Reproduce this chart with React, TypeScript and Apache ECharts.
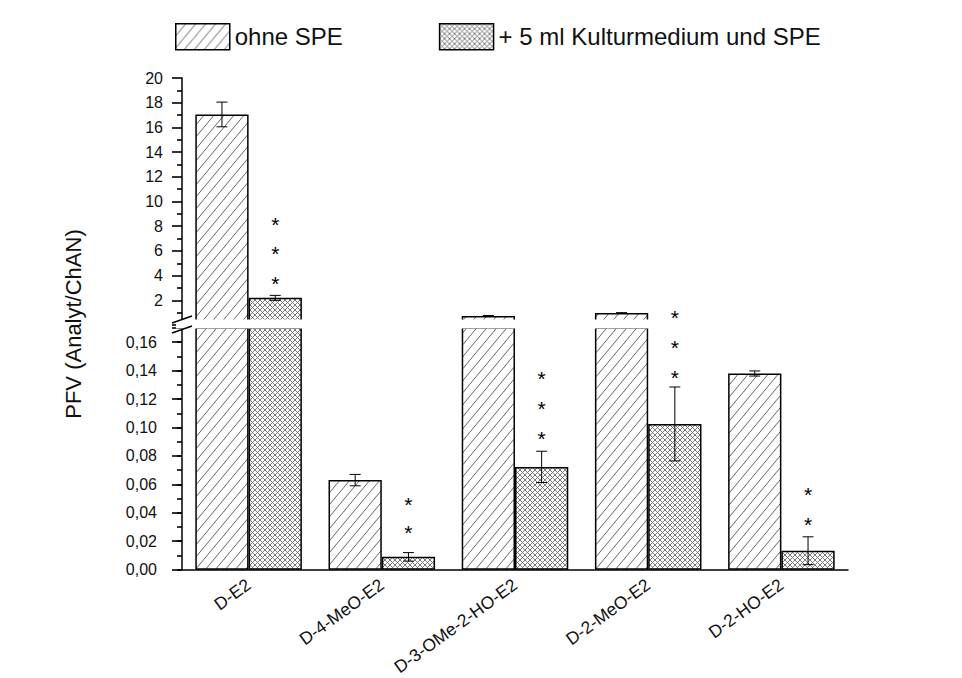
import React, { useEffect, useRef } from "react";
import * as echarts from "echarts";

// Substances on the x axis
const categories = ["D-E2", "D-4-MeO-E2", "D-3-OMe-2-HO-E2", "D-2-MeO-E2", "D-2-HO-E2"];
const seriesNames = ["ohne SPE", "+ 5 ml Kulturmedium und SPE"];

// PFV means and standard deviations
const ohneSPE = [17.05, 0.063, 0.73, 0.97, 0.138];
const ohneSPEErr = [1.0, 0.004, 0.04, 0.03, 0.0018];
const mitSPE = [2.2, 0.009, 0.0723, 0.1025, 0.0133];
const mitSPEErr = [0.2, 0.003, 0.011, 0.026, 0.0098];

// Significance asterisks: [category, y value] (all above the SPE bars)
const starsUpper = [[0, 8.5], [0, 6.1], [0, 3.7], [3, 0.9]];
const starsLower = [
  [1, 0.049], [1, 0.0288],
  [2, 0.137], [2, 0.1165], [2, 0.0954],
  [3, 0.159], [3, 0.138],
  [4, 0.0554], [4, 0.0344],
];

// Broken y axis: lower segment and upper segment ranges
const lowerMax = 0.17;
const upperMax = 20;
const breakValue = 0.17; // values above this are drawn in the upper segment

const FONT = "'Liberation Sans', Arial, sans-serif";

function hatchTile(): HTMLCanvasElement {
  const c = document.createElement("canvas");
  c.width = 10;
  c.height = 12;
  const ctx = c.getContext("2d")!;
  ctx.fillStyle = "#ffffff";
  ctx.fillRect(0, 0, 10, 12);
  ctx.strokeStyle = "#666666";
  ctx.lineWidth = 1;
  ctx.beginPath();
  for (let k = -1; k <= 2; k++) {
    // y = 12k - 1.2x
    ctx.moveTo(-5, 12 * k + 6);
    ctx.lineTo(15, 12 * k - 18);
  }
  ctx.stroke();
  return c;
}

function crossTile(): HTMLCanvasElement {
  const c = document.createElement("canvas");
  c.width = 5;
  c.height = 5;
  const ctx = c.getContext("2d")!;
  ctx.fillStyle = "#ffffff";
  ctx.fillRect(0, 0, 5, 5);
  ctx.strokeStyle = "#6c6c6c";
  ctx.lineWidth = 0.9;
  ctx.beginPath();
  ctx.moveTo(-1, -1);
  ctx.lineTo(6, 6);
  ctx.moveTo(-1, 6);
  ctx.lineTo(6, -1);
  ctx.stroke();
  return c;
}

function errorData(vals: number[], errs: number[], side: number, upper: boolean) {
  const out: number[][] = [];
  vals.forEach((v, i) => {
    const hi = v + errs[i];
    const isUpper = hi > breakValue;
    if (isUpper === upper) out.push([i, v - errs[i], hi, side]);
  });
  return out;
}

const renderError = (_params: any, api: any) => {
  const cat = api.value(0);
  const lo = api.value(1);
  const hi = api.value(2);
  const side = api.value(3);
  const bw = api.size([1, 0])[0];
  const xc = api.coord([cat, 0])[0] + side * bw * 0.2;
  const yLo = api.coord([cat, lo])[1];
  const yHi = api.coord([cat, hi])[1];
  const cap = 5.5;
  const st = { stroke: "#000", lineWidth: 1 };
  return {
    type: "group",
    children: [
      { type: "line", shape: { x1: xc, y1: yLo, x2: xc, y2: yHi }, style: st },
      { type: "line", shape: { x1: xc - cap, y1: yLo, x2: xc + cap, y2: yLo }, style: st },
      { type: "line", shape: { x1: xc - cap, y1: yHi, x2: xc + cap, y2: yHi }, style: st },
    ],
  };
};

const renderStar = (_params: any, api: any) => {
  const cat = api.value(0);
  const v = api.value(1);
  const bw = api.size([1, 0])[0];
  const p = api.coord([cat, v]);
  return {
    type: "text",
    x: p[0] + bw * 0.2,
    y: p[1] + 4,
    style: {
      text: "*",
      fontSize: 21,
      fontFamily: FONT,
      fill: "#000",
      align: "center",
      verticalAlign: "middle",
    },
  };
};

export default function App() {
  const ref = useRef<HTMLDivElement>(null);

  useEffect(() => {
    if (!ref.current) return;
    const chart = echarts.init(ref.current, null, { renderer: "svg" });
    const hatch = { image: hatchTile(), repeat: "repeat" };
    const cross = { image: crossTile(), repeat: "repeat" };

    const gridLeft = 182;
    const gridWidth = 666;

    const axisLineStyle = { color: "#000", width: 1.5 };
    const commaFmt = (v: number) => (v > lowerMax - 0.005 ? "" : v.toFixed(2).replace(".", ","));

    const barBase = {
      type: "bar",
      barGap: "0%",
      barCategoryGap: "20%",
      clip: true,
    };

    const option: any = {
      animation: false,
      backgroundColor: "#ffffff",
      textStyle: { fontFamily: FONT },
      legend: {
        left: 175,
        top: 23,
        padding: 0,
        itemWidth: 54,
        itemHeight: 26,
        itemGap: 96,
        icon: "rect",
        data: seriesNames,
        selectedMode: false,
        textStyle: { fontSize: 24, color: "#111", fontFamily: FONT },
        itemStyle: { borderColor: "#000", borderWidth: 1.5 },
      },
      grid: [
        { left: gridLeft, width: gridWidth, top: 78, height: 247 },
        { left: gridLeft, width: gridWidth, top: 328, height: 242 },
      ],
      xAxis: [
        { type: "category", gridIndex: 0, data: categories, show: false },
        {
          type: "category",
          gridIndex: 1,
          data: categories,
          axisLine: { lineStyle: axisLineStyle },
          axisTick: { alignWithLabel: true, length: 10, lineStyle: { color: "#000", width: 1.5 } },
          axisLabel: { rotate: 36, fontSize: 17.5, color: "#111", margin: 13, fontFamily: FONT },
        },
      ],
      yAxis: [
        {
          type: "value",
          gridIndex: 0,
          position: "left",
          min: 0,
          max: upperMax,
          interval: 2,
          axisLine: { show: true, lineStyle: axisLineStyle },
          axisTick: { show: true, length: 10, lineStyle: { color: "#000", width: 1.6 } },
          minorTick: { show: true, splitNumber: 2, length: 5, lineStyle: { color: "#000", width: 1.6 } },
          splitLine: { show: false },
          axisLabel: {
            fontSize: 16,
            color: "#111",
            margin: 19,
            fontFamily: FONT,
            formatter: (v: number) => (v === 0 ? "" : String(v)),
          },
        },
        {
          type: "value",
          gridIndex: 1,
          position: "left",
          min: 0,
          max: lowerMax,
          interval: 0.02,
          axisLine: { show: true, lineStyle: axisLineStyle },
          axisTick: { show: true, length: 10, lineStyle: { color: "#000", width: 1.6 } },
          splitLine: { show: false },
          axisLabel: { fontSize: 16, color: "#111", margin: 25, fontFamily: FONT, formatter: commaFmt },
        },
        {
          // minor ticks of the lower segment
          type: "value",
          gridIndex: 1,
          position: "left",
          offset: 0,
          min: 0,
          max: lowerMax,
          interval: 0.01,
          axisLine: { show: false },
          axisTick: { show: true, length: 5, lineStyle: { color: "#000", width: 1.6 } },
          splitLine: { show: false },
          axisLabel: { show: false },
        },
      ],
      series: [
        {
          ...barBase,
          name: seriesNames[0],
          xAxisIndex: 0,
          yAxisIndex: 0,
          data: ohneSPE,
          itemStyle: { color: hatch, borderColor: "#000", borderWidth: 1.5 },
        },
        {
          ...barBase,
          name: seriesNames[1],
          xAxisIndex: 0,
          yAxisIndex: 0,
          data: mitSPE,
          itemStyle: { color: cross, borderColor: "#000", borderWidth: 1.5 },
        },
        {
          ...barBase,
          name: seriesNames[0],
          xAxisIndex: 1,
          yAxisIndex: 1,
          data: ohneSPE,
          itemStyle: { color: hatch, borderColor: "#000", borderWidth: 1.5 },
        },
        {
          ...barBase,
          name: seriesNames[1],
          xAxisIndex: 1,
          yAxisIndex: 1,
          data: mitSPE,
          itemStyle: { color: cross, borderColor: "#000", borderWidth: 1.5 },
        },
        {
          type: "custom",
          xAxisIndex: 0,
          yAxisIndex: 0,
          renderItem: renderError,
          data: [...errorData(ohneSPE, ohneSPEErr, -1, true), ...errorData(mitSPE, mitSPEErr, 1, true)],
          z: 5,
        },
        {
          type: "custom",
          xAxisIndex: 1,
          yAxisIndex: 1,
          renderItem: renderError,
          data: [...errorData(ohneSPE, ohneSPEErr, -1, false), ...errorData(mitSPE, mitSPEErr, 1, false)],
          z: 5,
        },
        {
          type: "custom",
          xAxisIndex: 0,
          yAxisIndex: 0,
          renderItem: renderStar,
          data: starsUpper,
          z: 5,
        },
        {
          type: "custom",
          xAxisIndex: 1,
          yAxisIndex: 1,
          renderItem: renderStar,
          data: starsLower,
          z: 5,
        },
      ],
      graphic: [
        // gap of the broken axis
        {
          type: "rect",
          z: 100,
          shape: { x: 176, y: 319.5, width: 674, height: 9 },
          style: { fill: "#ffffff" },
        },
        {
          type: "line",
          z: 101,
          shape: { x1: 172, y1: 323, x2: 192, y2: 316 },
          style: { stroke: "#000", lineWidth: 1.5 },
        },
        {
          type: "line",
          z: 101,
          shape: { x1: 172, y1: 333, x2: 192, y2: 326 },
          style: { stroke: "#000", lineWidth: 1.5 },
        },
        {
          type: "text",
          z: 101,
          x: 73,
          y: 324,
          rotation: Math.PI / 2,
          style: {
            text: "PFV (Analyt/ChAN)",
            fontSize: 22,
            fontFamily: FONT,
            fill: "#111",
            align: "center",
            verticalAlign: "middle",
          },
        },
      ],
    };

    chart.setOption(option);
    return () => chart.dispose();
  }, []);

  return (
    <div
      ref={ref}
      style={{ position: "fixed", left: 0, top: 0, width: 962, height: 678, background: "#fff" }}
    />
  );
}
